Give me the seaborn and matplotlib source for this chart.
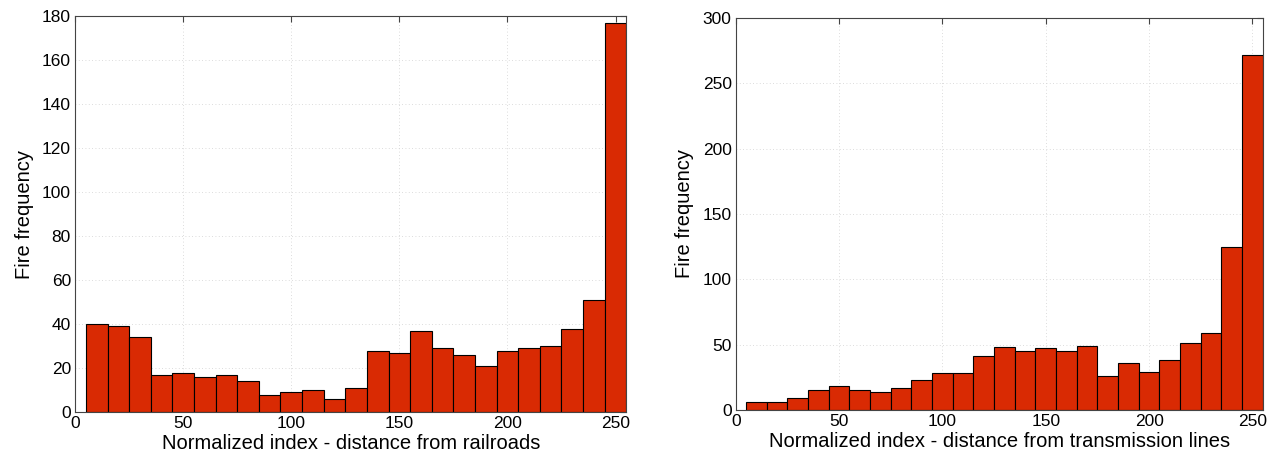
import pandas as pd
import matplotlib
matplotlib.use("Agg")
import matplotlib.pyplot as plt
import seaborn as sns

# bin centres (normalized index) and fire counts
bin_centers = [10, 20, 30, 40, 50, 60, 70, 80, 90, 100, 110, 120, 130,
               140, 150, 160, 170, 180, 190, 200, 210, 220, 230, 240, 250]
railroads = [40, 39, 34, 17, 18, 16, 17, 14, 8, 9, 10, 6, 11,
             28, 27, 37, 29, 26, 21, 28, 29, 30, 38, 51, 177]
transmission = [6, 6, 9, 15, 18, 15, 14, 17, 23, 28, 28, 41, 48,
                45, 47, 45, 49, 26, 36, 29, 38, 51, 59, 125, 272]

xlabels = ["Normalized index - distance from railroads",
           "Normalized index - distance from transmission lines"]
ylabel = "Fire frequency"
bar_color = "#d92a03"

sns.set_style("white")
plt.rcParams["font.family"] = ["Liberation Sans", "DejaVu Sans"]
plt.rcParams["text.color"] = "black"
plt.rcParams["axes.labelcolor"] = "black"
plt.rcParams["xtick.color"] = "black"
plt.rcParams["ytick.color"] = "black"

fig = plt.figure(figsize=(12.73, 4.61), dpi=100)
ax1 = fig.add_axes([0.059, 0.106, 0.433, 0.859])
ax2 = fig.add_axes([0.578, 0.111, 0.414, 0.850])

setups = [(ax1, railroads, 180, 20), (ax2, transmission, 300, 50)]
for i, (ax, counts, ymax, ystep) in enumerate(setups):
    df = pd.DataFrame({"x": bin_centers, "n": counts})
    sns.histplot(data=df, x="x", weights="n", binwidth=10, binrange=(5, 255),
                 ax=ax, color=bar_color, alpha=1, edgecolor="black",
                 linewidth=0.8)
    ax.set_xlim(0, 255)
    ax.set_ylim(0, ymax)
    ax.set_xticks(range(0, 251, 50))
    ax.set_yticks(range(0, ymax + 1, ystep))
    ax.grid(True, linestyle=(0, (1, 3)), color="#d0d0d0", linewidth=0.6)
    ax.set_axisbelow(True)
    ax.tick_params(direction="in", top=True, right=True, labelsize=12.5,
                   length=4, pad=3, color="#444444")
    for s in ax.spines.values():
        s.set_color("#444444")
        s.set_linewidth(0.8)
    ax.set_xlabel(xlabels[i], fontsize=14.5, labelpad=2)
    ax.set_ylabel(ylabel, fontsize=14.5, labelpad=6)

fig.savefig("out.png", dpi=100)
